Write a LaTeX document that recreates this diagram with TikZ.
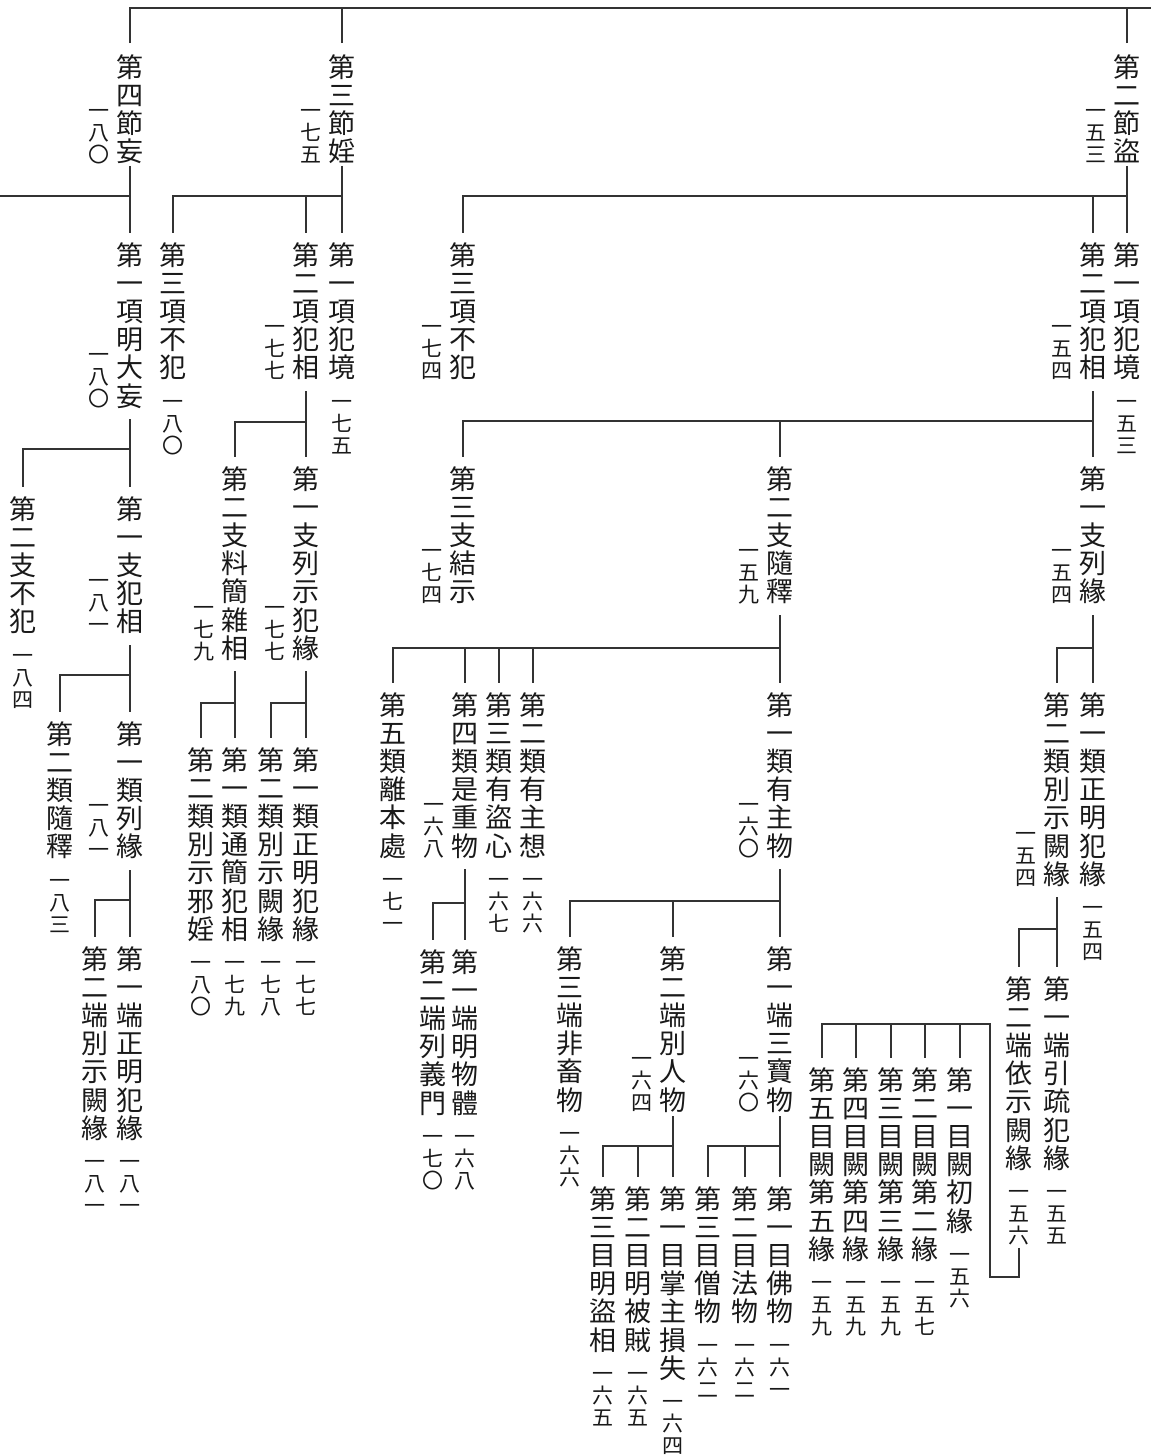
\documentclass[tikz,border=0pt]{standalone}
\usepackage{fontspec}
\newfontfamily\cjk{Noto Sans CJK JP}
\definecolor{inkc}{gray}{0.1}
\definecolor{linec}{gray}{0.2}
\newdimen\vth \newdimen\vtd \newdimen\vtw
\newcommand\vtend{}
\def\vtloop#1{\ifx#1\vtend\else\hbox to\vtw{\hss\vrule height\vth depth\vtd width0pt\relax#1\hss}\expandafter\vtloop\fi}
\newcommand\vt[1]{\vbox{\offinterlineskip\vth=24.3pt\vtd=3.9pt\vtw=28pt\vtloop#1\vtend}}
\newcommand\vn[1]{\vbox{\offinterlineskip\vth=18.9pt\vtd=3.1pt\vtw=22pt\vtloop#1\vtend}}
\tikzset{
  ln/.style={draw=linec, line width=1.4pt},
  ttl/.style={inner sep=0pt, anchor=north, text=inkc, font={\cjk\fontsize{27pt}{28pt}\selectfont}},
  sidenumst/.style={inner sep=0pt, anchor=south, text=inkc, font={\cjk\fontsize{21pt}{22pt}\selectfont}},
  belnumst/.style={inner sep=0pt, anchor=north, text=inkc, font={\cjk\fontsize{21pt}{22pt}\selectfont}},
}
\newcommand\ttlnode[4]{\node[ttl] (#1) at ({#2},{#3-2.4}) {\vt{#4}};}
\newcommand\sidenum[2]{\node[sidenumst] (#1n) at ([xshift=-31pt]#1.south) {\vn{#2}};}
\newcommand\belnum[2]{\node[belnumst] (#1n) at ([yshift=-8pt]#1.south) {\vn{#2}};}
\newcommand\vdown[2]{\draw[ln] ([yshift=-9pt]#1.south) -- ([yshift=8pt]#2.north);}
\newcommand\branch[3]{\draw[ln] (#1.south |- #3) -| ([yshift=8pt]#2.north);}
\begin{document}
\begin{tikzpicture}[x=1pt,y=-1pt]
\path[fill=white] (0,0) rectangle (1151,1456);
\useasboundingbox (0,0) rectangle (1151,1456);
% sections
\ttlnode{s4}{130}{55}{第四節妄} \sidenum{s4}{一八〇}
\ttlnode{s3}{342}{55}{第三節婬} \sidenum{s3}{一七五}
\ttlnode{s2}{1127}{55}{第二節盜} \sidenum{s2}{一五三}
% level 1
\ttlnode{a41}{130}{243}{第一項明大妄} \sidenum{a41}{一八〇}
\ttlnode{a31}{342}{243}{第一項犯境} \belnum{a31}{一七五}
\ttlnode{a32}{306}{243}{第二項犯相} \sidenum{a32}{一七七}
\ttlnode{a33}{173}{243}{第三項不犯} \belnum{a33}{一八〇}
\ttlnode{a21}{1127}{243}{第一項犯境} \belnum{a21}{一五三}
\ttlnode{a22}{1093}{243}{第二項犯相} \sidenum{a22}{一五四}
\ttlnode{a23}{463}{243}{第三項不犯} \sidenum{a23}{一七四}
% level 2
\ttlnode{b411}{130}{497}{第一支犯相} \sidenum{b411}{一八一}
\ttlnode{b412}{23}{497}{第二支不犯} \belnum{b412}{一八四}
\ttlnode{b321}{306}{467}{第一支列示犯緣} \sidenum{b321}{一七七}
\ttlnode{b322}{235}{467}{第二支料簡雜相} \sidenum{b322}{一七九}
\ttlnode{b221}{1093}{467}{第一支列緣} \sidenum{b221}{一五四}
\ttlnode{b222}{780}{467}{第二支隨釋} \sidenum{b222}{一五九}
\ttlnode{b223}{463}{467}{第三支結示} \sidenum{b223}{一七四}
% level 3
\ttlnode{c1}{130}{722}{第一類列緣} \sidenum{c1}{一八一}
\ttlnode{c2}{60}{722}{第二類隨釋} \belnum{c2}{一八三}
\ttlnode{c3}{306}{748}{第一類正明犯緣} \belnum{c3}{一七七}
\ttlnode{c4}{271}{748}{第二類別示闕緣} \belnum{c4}{一七八}
\ttlnode{c5}{235}{748}{第一類通簡犯相} \belnum{c5}{一七九}
\ttlnode{c6}{201}{748}{第二類別示邪婬} \belnum{c6}{一八〇}
\ttlnode{c7}{1093}{693}{第一類正明犯緣} \belnum{c7}{一五四}
\ttlnode{c8}{1057}{693}{第二類別示闕緣} \sidenum{c8}{一五四}
\ttlnode{c9}{780}{693}{第一類有主物} \sidenum{c9}{一六〇}
\ttlnode{c10}{533}{693}{第二類有主想} \belnum{c10}{一六六}
\ttlnode{c11}{499}{693}{第三類有盜心} \belnum{c11}{一六七}
\ttlnode{c12}{465}{693}{第四類是重物} \sidenum{c12}{一六八}
\ttlnode{c13}{393}{693}{第五類離本處} \belnum{c13}{一七一}
% level 4
\ttlnode{d1}{130}{947}{第一端正明犯緣} \belnum{d1}{一八一}
\ttlnode{d2}{95}{947}{第二端別示闕緣} \belnum{d2}{一八一}
\ttlnode{d3}{1057}{977}{第一端引疏犯緣} \belnum{d3}{一五五}
\ttlnode{d4}{1019}{977}{第二端依示闕緣} \belnum{d4}{一五六}
\ttlnode{d5}{465}{950}{第一端明物體} \belnum{d5}{一六八}
\ttlnode{d6}{433}{950}{第二端列義門} \belnum{d6}{一七〇}
\ttlnode{d7}{780}{947}{第一端三寶物} \sidenum{d7}{一六〇}
\ttlnode{d8}{673}{947}{第二端別人物} \sidenum{d8}{一六四}
\ttlnode{d9}{570}{947}{第三端非畜物} \belnum{d9}{一六六}
% level 5
\ttlnode{e1}{780}{1187}{第一目佛物} \belnum{e1}{一六一}
\ttlnode{e2}{745}{1187}{第二目法物} \belnum{e2}{一六二}
\ttlnode{e3}{708}{1187}{第三目僧物} \belnum{e3}{一六二}
\ttlnode{e4}{673}{1187}{第一目掌主損失} \belnum{e4}{一六四}
\ttlnode{e5}{638}{1187}{第二目明被賊} \belnum{e5}{一六五}
\ttlnode{e6}{603}{1187}{第三目明盜相} \belnum{e6}{一六五}
\ttlnode{f1}{960}{1068}{第一目闕初緣} \belnum{f1}{一五六}
\ttlnode{f2}{925}{1068}{第二目闕第二緣} \belnum{f2}{一五七}
\ttlnode{f3}{891}{1068}{第三目闕第三緣} \belnum{f3}{一五九}
\ttlnode{f4}{856}{1068}{第四目闕第四緣} \belnum{f4}{一五九}
\ttlnode{f5}{822}{1068}{第五目闕第五緣} \belnum{f5}{一五九}
% bar coordinates
\coordinate (TopR) at (1151,8);
\coordinate (B0) at (0,196);
\coordinate (B1) at (0,449);
\coordinate (B2) at (0,422);
\coordinate (B3) at (0,421);
\coordinate (B4) at (0,675);
\coordinate (B5) at (0,703);
\coordinate (B6) at (0,648);
\coordinate (B7) at (0,900);
\coordinate (B8) at (0,929);
\coordinate (B9) at (0,903);
\coordinate (B10) at (0,901);
\coordinate (B11) at (0,1146);
\coordinate (B12) at (0,1024);
\coordinate (W) at (990,1277);
% top connectors
\draw[ln] ([yshift=9.6pt]s4.north) |- (TopR);
\draw[ln] ([yshift=9.6pt]s3.north) -- (s3.north |- TopR);
\draw[ln] ([yshift=9.6pt]s2.north) -- (s2.north |- TopR);
% sections to level 1
\draw[ln] (B0) -- (s4.south |- B0);
\draw[ln] (s4.south) -- ([yshift=8pt]a41.north);
\draw[ln] (s3.south) -- ([yshift=8pt]a31.north);
\branch{s3}{a32}{B0} \branch{s3}{a33}{B0}
\draw[ln] (s2.south) -- ([yshift=8pt]a21.north);
\branch{s2}{a22}{B0} \branch{s2}{a23}{B0}
% level 1 to 2
\vdown{a41}{b411} \branch{a41}{b412}{B1}
\vdown{a32}{b321} \branch{a32}{b322}{B2}
\vdown{a22}{b221} \branch{a22}{b222}{B3} \branch{a22}{b223}{B3}
% level 2 to 3
\vdown{b411}{c1} \branch{b411}{c2}{B4}
\vdown{b321}{c3} \branch{b321}{c4}{B5}
\vdown{b322}{c5} \branch{b322}{c6}{B5}
\vdown{b221}{c7} \branch{b221}{c8}{B6}
\vdown{b222}{c9} \branch{b222}{c10}{B6} \branch{b222}{c11}{B6} \branch{b222}{c12}{B6} \branch{b222}{c13}{B6}
% level 3 to 4
\vdown{c1}{d1} \branch{c1}{d2}{B7}
\vdown{c8}{d3} \branch{c8}{d4}{B8}
\vdown{c12}{d5} \branch{c12}{d6}{B9}
\vdown{c9}{d7} \branch{c9}{d8}{B10} \branch{c9}{d9}{B10}
% level 4 to 5
\draw[ln] ([yshift=-2pt]d7.south) -- ([yshift=8pt]e1.north);
\branch{d7}{e2}{B11} \branch{d7}{e3}{B11}
\draw[ln] ([yshift=-2pt]d8.south) -- ([yshift=8pt]e4.north);
\branch{d8}{e5}{B11} \branch{d8}{e6}{B11}
\draw[ln] ([yshift=-1pt]d4n.south) |- (W) -- (W |- B12) -| ([yshift=8pt]f5.north);
\draw[ln] (f1.north |- B12) -- ([yshift=8pt]f1.north);
\draw[ln] (f2.north |- B12) -- ([yshift=8pt]f2.north);
\draw[ln] (f3.north |- B12) -- ([yshift=8pt]f3.north);
\draw[ln] (f4.north |- B12) -- ([yshift=8pt]f4.north);
\end{tikzpicture}
\end{document}
